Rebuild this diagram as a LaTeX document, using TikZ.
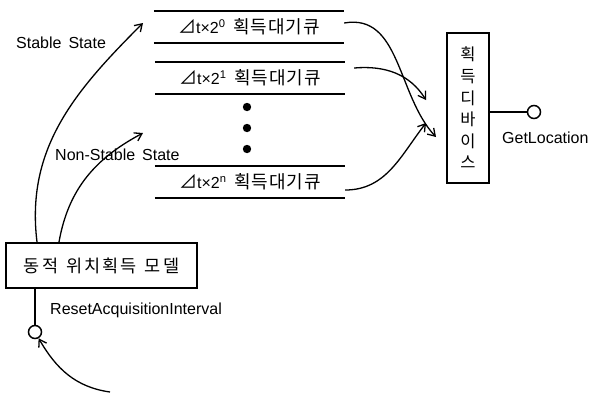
\documentclass[tikz,border=0pt]{standalone}
\usepackage{fontspec}
\setmainfont{Liberation Sans}
\newfontfamily\kr{Noto Sans CJK KR}
\usetikzlibrary{arrows.meta}
\newcommand{\Qlabel}[1]{{\kr\fontsize{18}{18}\selectfont ⊿}{\fontsize{16}{18}\selectfont t×2\textsuperscript{#1}}\hspace{8pt}{\kr\addfontfeature{LetterSpace=5}획득대기큐}}

\begin{document}
\begin{tikzpicture}[x=1pt,y=-1pt,
  >={Straight Barb[length=7pt,width=9pt]},
  wire/.style={line width=1.3pt},
  arr/.style={wire,->},
  qrow/.style={minimum width=190pt,minimum height=32pt,inner sep=0pt,font=\fontsize{18}{20}\selectfont},
  qline/.style={line width=1.6pt},
  box/.style={draw,line width=2pt,inner sep=0pt},
  lbl/.style={anchor=west,inner sep=0pt,font=\fontsize{16}{18}\selectfont},
  port/.style={circle,draw,line width=1.5pt,minimum size=13pt,inner sep=0pt}]
  \useasboundingbox (0,0) rectangle (589,392);
  % queues
  \node[qrow] (q0) at (249,27) {\Qlabel{0}};
  \node[qrow] (q1) at (250,78) {\Qlabel{1}};
  \node[qrow] (qn) at (250,182) {\Qlabel{n}};
  \foreach \q in {q0,q1,qn}
    \draw[qline] (\q.north west) -- (\q.north east) (\q.south west) -- (\q.south east);
  \foreach \y in {107,128,149}
    \fill (247,\y) circle (4.2pt);
  % device
  \node[box,minimum width=42pt,minimum height=150pt,align=center,font=\kr\fontsize{16.5}{21.6}\selectfont] (dev) at (468,108) {획\\득\\디\\바\\이\\스};
  \node[port] (gl) at (534,112) {};
  \draw[wire] (dev.east |- gl) -- (gl);
  \node[lbl] (gltext) at (502,138) {GetLocation};
  \draw[arr] ([yshift=4pt]q0.east) to[out=10,in=133] ([shift={(-10pt,-29pt)}]dev.west);
  \draw[arr] ([shift={(9pt,10pt)}]q1.east) to[out=5,in=122] ([shift={(-20pt,8pt)}]dev.west);
  \draw[arr] ([yshift=-8pt]qn.east) to[out=0,in=232] ([shift={(-20pt,-15pt)}]dev.west);
  % model
  \node[box,minimum width=191pt,minimum height=45pt,font=\kr\fontsize{17.5}{20}\selectfont\addfontfeature{LetterSpace=12}] (model) at (101.5,265.5) {동적\hspace{8pt}위치획득\hspace{8pt}모델};
  \node[port] (rp) at (35,332) {};
  \draw[wire] (model.south -| rp) -- (rp);
  \node[lbl] (rtext) at (50,310) {ResetAcquisitionInterval};
  \coordinate (src) at (110,392);
  \draw[arr] (src) to[out=172,in=-60] (rp);
  \coordinate (st) at (143,23);
  \coordinate (ns) at (143,133);
  \draw[arr] ([xshift=32pt]model.north west) to[out=97,in=225] (st);
  \draw[arr] ([xshift=54pt]model.north west) to[out=80,in=208] (ns);
  \node[lbl] (sttext) at (16,43) {Stable\hspace{7pt}State};
  \node[lbl] (nstext) at (55,155) {Non-Stable\hspace{7pt}State};
\end{tikzpicture}
\end{document}
